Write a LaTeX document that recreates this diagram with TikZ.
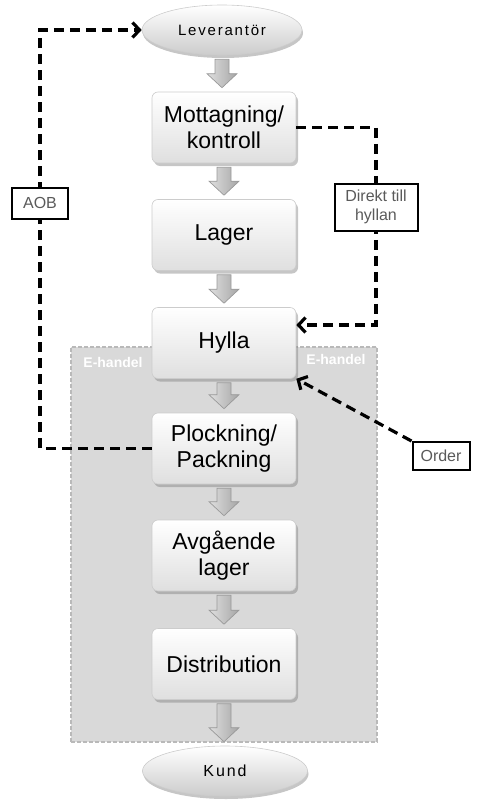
\documentclass[tikz,border=0pt]{standalone}
\usepackage{fontspec}
\setmainfont{Liberation Sans}
\newfontfamily\spacedfont[LetterSpace=12]{Liberation Sans}
\usetikzlibrary{arrows.meta,calc,shadows,shapes.geometric}
\definecolor{ehfill}{RGB}{217,217,217}
\definecolor{ehline}{RGB}{185,185,185}
\definecolor{lbltext}{RGB}{90,90,90}
\newcommand\blockarr[2]{\path[blockarrow] let \p1=(#1.south), \p2=(#2.north) in
  (\x1-7pt,\y1-4pt) -- (\x1+7pt,\y1-4pt) -- (\x1+7pt,\y2+18pt) -- (\x1+15pt,\y2+18pt) --
  (\x1,\y2+4pt) -- (\x1-15pt,\y2+18pt) -- (\x1-7pt,\y2+18pt) -- cycle;}
\begin{document}
\begin{tikzpicture}[x=1pt,y=-1pt,
  stepbox/.style={rectangle, rounded corners=6pt, minimum width=144pt, minimum height=71pt,
    inner sep=0pt, top color=white, bottom color=gray!25, draw=gray!40, line width=0.6pt,
    drop shadow={opacity=0.45, shadow xshift=2pt, shadow yshift=-3pt},
    font=\fontsize{23}{26}\selectfont, align=center},
  endpoint/.style={ellipse, inner sep=0pt, top color=white, bottom color=gray!40,
    draw=gray!40, line width=0.6pt,
    drop shadow={opacity=0.45, shadow xshift=1pt, shadow yshift=-3pt}},
  blockarrow/.style={left color=gray!25, right color=gray!70, draw=gray!80, line width=0.7pt},
  dashline/.style={draw=black, line width=3.2pt, dash pattern=on 10pt off 6pt},
  dashtip/.style={-{Straight Barb[length=7pt,width=15pt]}},
  lbl/.style={draw=black, line width=2pt, fill=white, text=lbltext,
    font=\fontsize{16}{19}\selectfont, align=center, inner sep=0pt},
  ehlabel/.style={text=white, font=\bfseries\fontsize{14}{16}\selectfont}
]
\useasboundingbox (0,0) rectangle (499,811);
% E-handel region
\node[draw=ehline, fill=ehfill, dash pattern=on 4pt off 2pt, line width=1.8pt,
  minimum width=306pt, minimum height=395pt, inner sep=0pt] (eh) at (224,544.5) {};
\node[ehlabel] (ehl) at (113,362) {E-handel};
\node[ehlabel] (ehr) at (336,359) {E-handel};
% main flow
\node[endpoint, minimum width=160pt, minimum height=50pt] (lev) at (222,30)
  {\spacedfont\fontsize{15}{17}\selectfont Leverantör};
\node[stepbox] (mot) at (224,127.5) {Mottagning/\\kontroll};
\node[stepbox] (lag) at (224,235) {Lager};
\node[stepbox] (hyl) at (224,343) {Hylla};
\node[stepbox] (pla) at (224,448.5) {Plockning/\\Packning};
\node[stepbox] (avg) at (224,555.5) {Avgående\\lager};
\node[stepbox] (dis) at (224,664) {Distribution};
\node[endpoint, minimum width=165pt, minimum height=50pt] (kun) at (225,771)
  {\spacedfont\fontsize{16}{18}\selectfont Kund};
% block arrows
\blockarr{lev}{mot}
\blockarr{mot}{lag}
\blockarr{lag}{hyl}
\blockarr{hyl}{pla}
\blockarr{pla}{avg}
\blockarr{avg}{dis}
\blockarr{dis}{kun}
% dashed connectors
\coordinate (aobt) at (40,30);
\draw[dashline, dashtip] (pla.west) -| (aobt) -- (lev.west);
\node[lbl, minimum width=56pt, minimum height=31pt] (aob) at (40,203) {AOB};
\coordinate (dtc) at (376,325);
\draw[dashline, dashtip] (mot.east) -| (dtc) -- (hyl.east |- dtc);
\node[lbl, minimum width=83pt, minimum height=47pt] (dth) at (376,207) {Direkt till\\hyllan};
\node[lbl, minimum width=57pt, minimum height=28pt] (ord) at (441,456) {Order};
\draw[dashline, dashtip] (ord.north west) -- (hyl.south east);
\node[lbl, minimum width=57pt, minimum height=28pt] at (ord) {Order};
\end{tikzpicture}
\end{document}
